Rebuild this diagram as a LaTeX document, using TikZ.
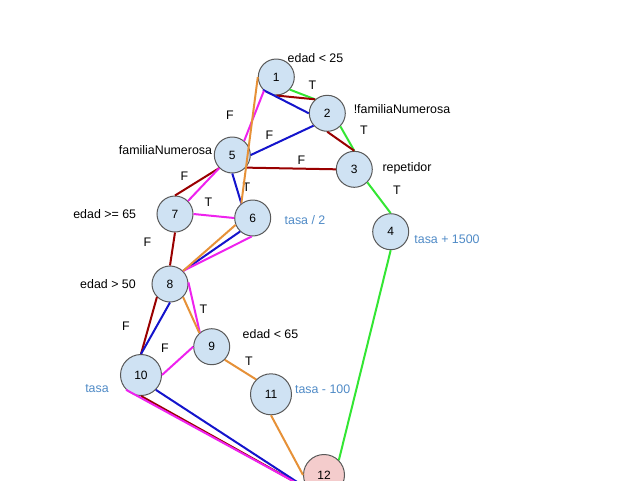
\documentclass[tikz,border=0pt]{standalone}
\usepackage{fontspec}
\setmainfont{Liberation Sans}
\begin{document}
% Control-flow graph with the test paths drawn in colour
\definecolor{nodefill}{HTML}{CFE2F3}
\definecolor{endfill}{HTML}{F4CCCC}
\definecolor{nodeline}{HTML}{595959}
\definecolor{pgreen}{HTML}{33E633}
\definecolor{pred}{HTML}{990000}
\definecolor{pblue}{HTML}{1414CC}
\definecolor{pmag}{HTML}{EE22EE}
\definecolor{porange}{HTML}{E69138}
\definecolor{valtext}{HTML}{4F8AC6}
\begin{tikzpicture}[x=0.75pt,y=-0.75pt,
  state/.style={circle, draw=nodeline, line width=0.75pt, fill=nodefill,
    minimum size=27pt, inner sep=0pt, font=\fontsize{9}{10}\selectfont},
  bigstate/.style={state, minimum size=30.75pt},
  cond/.style={inner sep=0pt, font=\fontsize{9.3}{11}\selectfont},
  val/.style={cond, text=valtext},
  tf/.style={inner sep=0pt, font=\fontsize{9.3}{11}\selectfont},
  route/.style={line width=1.5pt}]
\useasboundingbox (0,0) rectangle (640,480);

% nodes
\node[state] (n1) at (276.3,77) {1};
\node[state] (n2) at (327.3,113.3) {2};
\node[state] (n3) at (354.3,169.3) {3};
\node[state] (n4) at (390.7,231.7) {4};
\node[state] (n5) at (232.3,155) {5};
\node[state] (n6) at (252.7,218) {6};
\node[state] (n7) at (175,214) {7};
\node[state] (n8) at (170,284) {8};
\node[state] (n9) at (211.7,346.7) {9};
\node[bigstate] (n10) at (141,375) {10};
\node[bigstate] (n11) at (271,394.3) {11};
\node[bigstate, fill=endfill] (n12) at (324,475) {12};

% conditions and values
\node[cond] (c1) at (315.5,57.7) {edad < 25};
\node[cond] (c2) at (402,109) {!familiaNumerosa};
\node[cond] (c3) at (407,168) {repetidor};
\node[cond] (c5) at (165.5,150) {familiaNumerosa};
\node[cond] (c7) at (104.7,214) {edad >= 65};
\node[cond] (c8) at (108,284) {edad > 50};
\node[cond] (c9) at (270.5,334) {edad < 65};
\node[val] (v6) at (305,220) {tasa / 2};
\node[val] (v4) at (447,239) {tasa + 1500};
\node[val] (v10) at (97,389) {tasa};
\node[val] (v11) at (322.7,389) {tasa - 100};

% branch labels
\node[tf] (t12) at (312.5,85) {T};
\node[tf] (t23) at (364,130) {T};
\node[tf] (f15) at (230,115) {F};
\node[tf] (f25) at (269.5,135) {F};
\node[tf] (f35) at (301.5,160) {F};
\node[tf] (t34) at (397,190) {T};
\node[tf] (t56) at (246.5,187) {T};
\node[tf] (f57) at (184.5,176.5) {F};
\node[tf] (t76) at (208.3,202.5) {T};
\node[tf] (f78) at (147.5,242) {F};
\node[tf] (t89) at (203.3,309.5) {T};
\node[tf] (f810) at (126,326) {F};
\node[tf] (f910) at (165,348.3) {F};
\node[tf] (t911) at (249,361.5) {T};

% green path
\draw[route, pgreen] (n1.-43) -- (n2.131);
\draw[route, pgreen] (n2.-45) -- (n3.north);
\draw[route, pgreen] (n3.-45) -- (n4.north);
\draw[route, pgreen] (n4.south) -- (n12.45);

% dark red path
\draw[route, pred] (n1.south) -- (n2.131);
\draw[route, pred] (n2.south) -- (n3.north);
\draw[route, pred] (n5.-43) -- (n3.west);
\draw[route, pred] (n5.-135) -- (n7.north);
\draw[route, pred] (n7.south) -- (n8.north);
\draw[route, pred] (n8.-135) -- (n10.north);
\draw[route, pred] (n10.south) -- (n12.-135);

% blue path
\draw[route, pblue] (n1.-136) -- (n2.west);
\draw[route, pblue] (n2.-138) -- (n5.east);
\draw[route, pblue] (n5.south) -- (n6.128);
\draw[route, pblue] (n6.-133) -- (n8.45);
\draw[route, pblue] (n8.south) -- (n10.north);
\draw[route, pblue] (n10.-45) -- (n12.-135);

% magenta path
\draw[route, pmag] (n1.-132) -- (n5.50);
\draw[route, pmag] (n5.-135) -- (n7.45);
\draw[route, pmag] (n7.east) -- (n6.west);
\draw[route, pmag] (n6.-93) -- (n8.45);
\draw[route, pmag] (n8.5) -- (n9.130);
\draw[route, pmag] (n9.west) -- (n10.east);
\draw[route, pmag] (n10.-135) -- (n12.-135);

% orange path
\draw[route, porange] (n1.west) -- (n6.128);
\draw[route, porange] (n6.-158) -- (n8.45);
\draw[route, porange] (n8.-45) -- (n9.132);
\draw[route, porange] (n9.-45) -- (n11.135);
\draw[route, porange] (n11.south) -- (n12.west);
\end{tikzpicture}
\end{document}
